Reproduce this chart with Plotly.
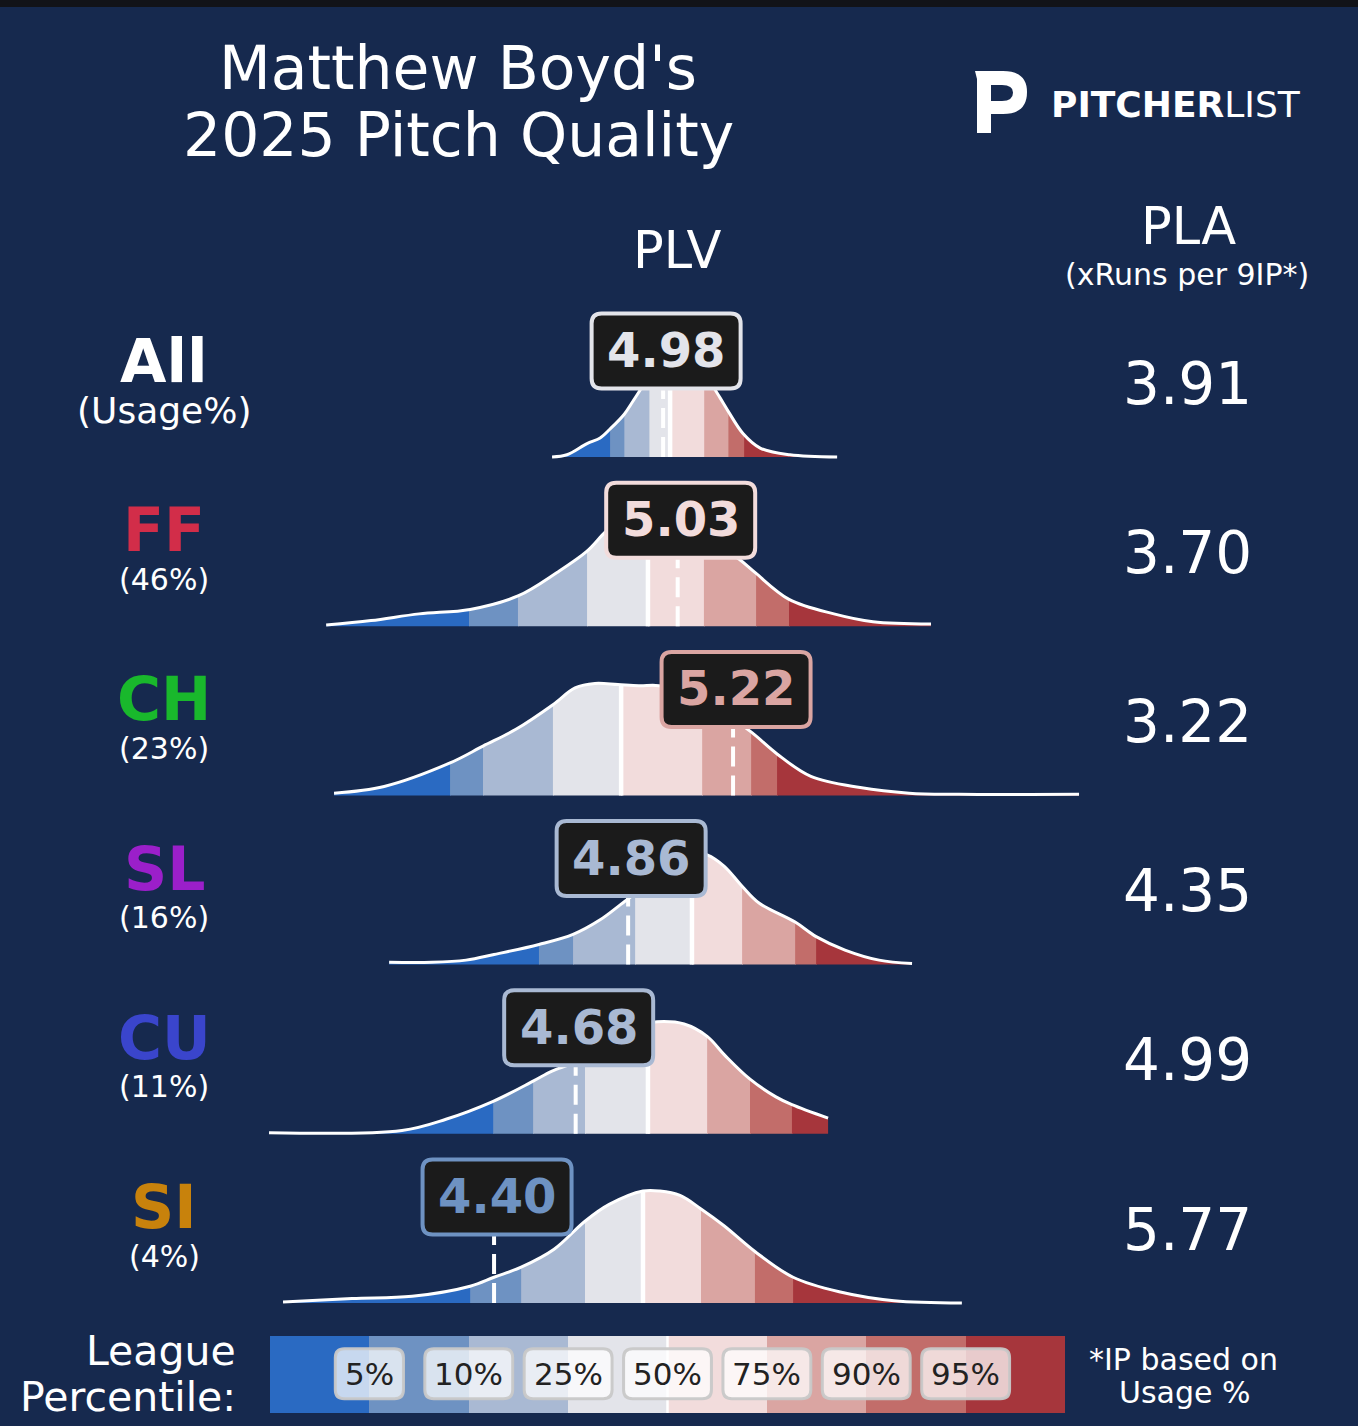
import numpy as np
import plotly.graph_objects as go

W, H = 1358, 1426
BG = "#16294e"
FONT = "DejaVu Sans"

# ---------------- data ----------------
ROWS = ["All", "FF", "CH", "SL", "CU", "SI"]
ROW_COLORS = ["#ffffff", "#d22d49", "#19b82c", "#9b1fca", "#3a45cc", "#c8820c"]
USAGE = ["(Usage%)", "(46%)", "(23%)", "(16%)", "(11%)", "(4%)"]
PLV = [4.98, 5.03, 5.22, 4.86, 4.68, 4.40]
PLA = [3.91, 3.70, 3.22, 4.35, 4.99, 5.77]

PCT_LABELS = ["5%", "10%", "25%", "50%", "75%", "90%", "95%"]
BAND_COLORS = ["#2a6ac2", "#6e92c2", "#a9b9d3", "#e3e4ea",
               "#f2dcdc", "#daa5a2", "#c26d6a", "#a6363c"]

# league percentile cut points (5,10,25,50,75,90,95) of PLV for each row
ALL_PCT = [4.798, 4.847, 4.933, 5.004, 5.121, 5.204, 5.258]
FF_PCT = [4.314, 4.482, 4.719, 4.928, 5.120, 5.299, 5.412]
CH_PCT = [4.249, 4.362, 4.602, 4.836, 5.114, 5.282, 5.371]
SL_PCT = [4.554, 4.671, 4.884, 5.079, 5.251, 5.433, 5.505]
CU_PCT = [4.397, 4.534, 4.712, 4.928, 5.131, 5.278, 5.422]
SI_PCT = [4.318, 4.493, 4.712, 4.911, 5.110, 5.295, 5.426]

# density curves (PLV value, relative density)
ALL_X = [4.599, 4.650, 4.719, 4.764, 4.798, 4.846, 4.877, 4.935, 4.987, 5.031,
         5.079, 5.127, 5.175, 5.203, 5.254, 5.313, 5.415, 5.577]
ALL_D = [0.00, 0.02, 0.12, 0.17, 0.25, 0.38, 0.50, 0.73, 0.91, 1.00,
         0.91, 0.73, 0.53, 0.41, 0.21, 0.08, 0.02, 0.00]

FF_X = [3.824, 3.978, 4.143, 4.318, 4.482, 4.616, 4.719, 4.781, 4.832, 4.901,
        4.969, 5.072, 5.158, 5.240, 5.295, 5.412, 5.566, 5.700, 5.899]
FF_D = [0.01, 0.05, 0.11, 0.15, 0.27, 0.48, 0.67, 0.84, 0.95, 1.00,
        0.97, 0.86, 0.73, 0.60, 0.48, 0.24, 0.11, 0.04, 0.02]

CH_X = [3.851, 4.023, 4.249, 4.362, 4.475, 4.602, 4.678, 4.746, 4.825, 4.897,
        4.966, 5.038, 5.124, 5.210, 5.285, 5.371, 5.487, 5.656, 5.824, 5.995, 6.407]
CH_D = [0.02, 0.08, 0.29, 0.44, 0.59, 0.81, 0.96, 1.00, 0.99, 0.98,
        0.98, 0.93, 0.83, 0.70, 0.56, 0.37, 0.17, 0.07, 0.02, 0.01, 0.01]

SL_X = [4.040, 4.187, 4.304, 4.400, 4.554, 4.671, 4.764, 4.836, 4.901, 4.969,
        5.038, 5.090, 5.131, 5.189, 5.251, 5.309, 5.433, 5.505, 5.604, 5.721, 5.834]
SL_D = [0.02, 0.02, 0.04, 0.09, 0.18, 0.27, 0.40, 0.54, 0.67, 0.82,
        0.95, 1.00, 0.98, 0.88, 0.70, 0.55, 0.38, 0.25, 0.13, 0.04, 0.01]

CU_X = [3.628, 4.084, 4.235, 4.397, 4.534, 4.599, 4.678, 4.764, 4.849, 4.918,
        4.959, 5.052, 5.131, 5.192, 5.277, 5.367, 5.422, 5.546]
CU_D = [0.01, 0.03, 0.13, 0.29, 0.47, 0.56, 0.64, 0.79, 0.91, 0.98,
        1.00, 0.98, 0.87, 0.70, 0.49, 0.33, 0.26, 0.14]

SI_X = [3.676, 3.913, 4.119, 4.318, 4.400, 4.493, 4.606, 4.712, 4.795, 4.911,
        4.969, 5.038, 5.110, 5.189, 5.295, 5.426, 5.584, 5.772, 6.005]
SI_D = [0.01, 0.04, 0.06, 0.15, 0.23, 0.32, 0.48, 0.73, 0.88, 1.00,
        1.00, 0.96, 0.84, 0.69, 0.46, 0.23, 0.10, 0.02, 0.00]

CURVES_X = [ALL_X, FF_X, CH_X, SL_X, CU_X, SI_X]
CURVES_D = [ALL_D, FF_D, CH_D, SL_D, CU_D, SI_D]
PCTS = [ALL_PCT, FF_PCT, CH_PCT, SL_PCT, CU_PCT, SI_PCT]

# ---------------- geometry ----------------
X_RANGE = [2.705, 7.364]          # PLV axis across the full width
BASE0, STEP, UNIT = 457.0, 169.2, 112.0   # px of first baseline, row step, px per density unit
BOX_H = 106.0 / UNIT              # label box centre above baseline (density units)


def pxx(px):
    return px / W


def pyy(py):
    return 1 - py / H


def rrect(w, h, r, dx=0.0):
    x0, x1 = -w / 2 + dx, w / 2 + dx
    y0, y1 = -h / 2, h / 2
    return (f"M{x0 + r},{y0} L{x1 - r},{y0} Q{x1},{y0} {x1},{y0 + r} "
            f"L{x1},{y1 - r} Q{x1},{y1} {x1 - r},{y1} L{x0 + r},{y1} "
            f"Q{x0},{y1} {x0},{y1 - r} L{x0},{y0 + r} Q{x0},{y0} {x0 + r},{y0} Z")


fig = go.Figure()
shapes = []
annotations = []
layout_axes = {}


def txt(px, py, text, size, color="white", xanchor="center"):
    annotations.append(dict(x=pxx(px), y=pyy(py), xref="paper", yref="paper",
                            text=text, showarrow=False, xanchor=xanchor, yanchor="middle",
                            font=dict(family=FONT, size=size, color=color)))


for i in range(len(ROWS)):
    yname = "y" if i == 0 else f"y{i + 1}"
    ykey = "yaxis" if i == 0 else f"yaxis{i + 1}"
    base = BASE0 + STEP * i
    layout_axes[ykey] = dict(domain=[pyy(base + 8), pyy(base - 160)],
                             range=[-8 / UNIT, 160 / UNIT], anchor="x",
                             visible=False, fixedrange=True)
    xs = np.array(CURVES_X[i], dtype=float)
    ds = np.array(CURVES_D[i], dtype=float)
    pc = PCTS[i]
    edges = [xs[0]] + [min(max(p, xs[0]), xs[-1]) for p in pc] + [xs[-1]]
    for k in range(8):
        lo, hi = edges[k], edges[k + 1]
        if hi - lo < 1e-9:
            continue
        if k < 7:
            hi = min(hi + 0.003, xs[-1])
        m = (xs > lo) & (xs < hi)
        sx = np.concatenate([[lo], xs[m], [hi]])
        sy = np.interp(sx, xs, ds)
        fig.add_trace(go.Scatter(x=sx, y=sy, mode="lines", yaxis=yname,
                                 line=dict(width=0, shape="spline"),
                                 fill="tozeroy", fillcolor=BAND_COLORS[k],
                                 hoverinfo="skip", showlegend=False))
    # median line
    p50 = pc[3]
    fig.add_trace(go.Scatter(x=[p50, p50], y=[0, float(np.interp(p50, xs, ds))],
                             mode="lines", yaxis=yname,
                             line=dict(color="white", width=4.5),
                             hoverinfo="skip", showlegend=False))
    # outline
    fig.add_trace(go.Scatter(x=xs, y=ds, mode="lines", yaxis=yname,
                             line=dict(color="white", width=3, shape="spline"),
                             hoverinfo="skip", showlegend=False))
    # pitcher value
    v = PLV[i]
    fig.add_trace(go.Scatter(x=[v, v], y=[0, BOX_H], mode="lines", yaxis=yname,
                             line=dict(color="white", width=4, dash="20px,9px"),
                             hoverinfo="skip", showlegend=False))
    col = BAND_COLORS[int(np.searchsorted(pc, v))]
    shapes.append(dict(type="path", xref="x", yref=yname, xsizemode="pixel",
                       ysizemode="pixel", xanchor=v, yanchor=BOX_H,
                       path=rrect(149, 75, 10, 3), fillcolor="#1b1b1b",
                       line=dict(color=col, width=4), layer="above"))
    annotations.append(dict(x=v, y=BOX_H, xref="x", yref=yname, xshift=3, yshift=1,
                            xanchor="center", yanchor="middle",
                            text=f"<b>{v:.2f}</b>", showarrow=False,
                            font=dict(family=FONT, size=48, color=col)))
    # left labels
    txt(164, base - 96, f"<b>{ROWS[i]}</b>", 60, ROW_COLORS[i])
    txt(164, base - 47, USAGE[i], 36 if i == 0 else 30)
    # PLA value
    txt(1187, base - 73.5, f"{PLA[i]:.2f}", 58)

# ---------------- legend bar ----------------
fig.add_trace(go.Bar(x=[k + 0.5 for k in range(8)], y=[1] * 8, width=1,
                     marker=dict(color=BAND_COLORS, line=dict(width=0)),
                     xaxis="x2", yaxis="y7", hoverinfo="skip", showlegend=False))
fig.add_trace(go.Scatter(x=[4, 4], y=[0, 1], mode="lines", xaxis="x2", yaxis="y7",
                         line=dict(color="white", width=2.5),
                         hoverinfo="skip", showlegend=False))
CW = {"%": 0.95}
for k, lab in enumerate(PCT_LABELS):
    tw = sum(CW.get(c, 0.636) for c in lab) * 31
    shapes.append(dict(type="path", xref="x2", yref="y7", xsizemode="pixel",
                       ysizemode="pixel", xanchor=k + 1, yanchor=0.51,
                       path=rrect(tw + 19, 50, 9), fillcolor="rgba(255,255,255,0.74)",
                       line=dict(color="rgba(200,200,200,0.95)", width=3), layer="above"))
    annotations.append(dict(x=k + 1, y=0.51, xref="x2", yref="y7", text=lab,
                            xanchor="center", yanchor="middle",
                            showarrow=False, font=dict(family=FONT, size=31, color="#222222")))

# ---------------- header texts ----------------
txt(458, 68, "Matthew Boyd's", 60)
txt(458, 135, "2025 Pitch Quality", 60)
txt(677, 250, "PLV", 51)
txt(1188, 226, "PLA", 51)
txt(1187, 274, "(xRuns per 9IP*)", 30)
txt(238, 1351, "League", 41, xanchor="right")
txt(238, 1397, "Percentile:", 41, xanchor="right")
txt(1183, 1359, "*IP based on", 30)
txt(1185, 1392, "Usage %", 30)
txt(1049, 104, "<b>PITCHER</b>LIST", 36, xanchor="left")


# logo mark and top strip
def P(px, py):
    return f"{pxx(px)},{pyy(py)}"


shapes.append(dict(type="rect", xref="paper", yref="paper", x0=0, x1=1,
                   y0=pyy(7), y1=1, fillcolor="#121318", line=dict(width=0), layer="below"))
logo = (f"M{P(975, 71)} L{P(1003, 71)} Q{P(1027, 71)} {P(1027, 92)} "
        f"Q{P(1027, 114)} {P(1003, 114)} L{P(991, 114)} L{P(991, 133)} "
        f"L{P(977, 133)} L{P(977, 79)} Z")
shapes.append(dict(type="path", xref="paper", yref="paper", path=logo,
                   fillcolor="white", line=dict(width=0)))
counter = (f"M{P(991, 85)} L{P(1002, 85)} Q{P(1013, 85)} {P(1013, 92.5)} "
           f"Q{P(1013, 101)} {P(1002, 101)} L{P(991, 101)} Z")
shapes.append(dict(type="path", xref="paper", yref="paper", path=counter,
                   fillcolor=BG, line=dict(width=0)))

fig.update_layout(
    width=W, height=H, margin=dict(l=0, r=0, t=0, b=0),
    paper_bgcolor=BG, plot_bgcolor="rgba(0,0,0,0)",
    showlegend=False, bargap=0,
    xaxis=dict(range=X_RANGE, domain=[0, 1], visible=False, fixedrange=True, anchor="y"),
    xaxis2=dict(range=[0, 8], domain=[pxx(270), pxx(1065)], visible=False,
                fixedrange=True, anchor="y7"),
    yaxis7=dict(range=[0, 1], domain=[pyy(1413), pyy(1336)], visible=False,
                fixedrange=True, anchor="x2"),
    shapes=shapes, annotations=annotations,
    font=dict(family=FONT, color="white"),
)
fig.update_layout(**layout_axes)

fig.write_html("out.html", config={"displayModeBar": False},
               post_script="document.body.style.margin='0';document.body.style.overflow='hidden';")
